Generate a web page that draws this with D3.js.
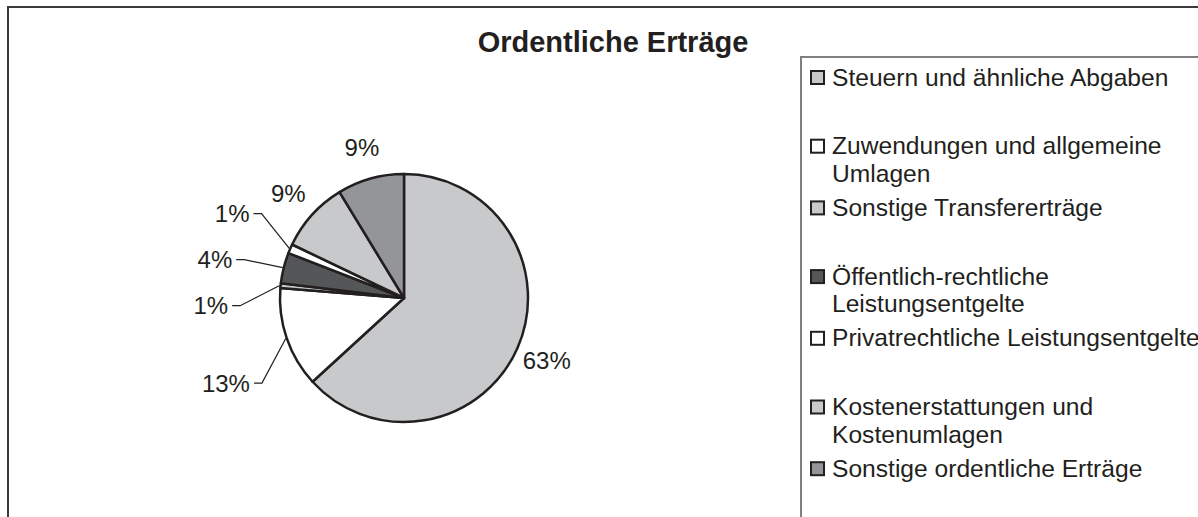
<!DOCTYPE html>
<html>
<head>
<meta charset="utf-8">
<script src="https://cdn.jsdelivr.net/npm/d3@7"></script>
<style>
  body { margin: 0; background: #fff; }
  svg { display: block; font-family: "Liberation Sans", Arial, sans-serif; }
</style>
</head>
<body>
<div id="chart"></div>
<script>
// categories in pie order (clockwise from 12 o'clock), "\n" = legend line break
const categories = [
  "Steuern und ähnliche Abgaben",
  "Zuwendungen und allgemeine\nUmlagen",
  "Sonstige Transfererträge",
  "Öffentlich-rechtliche\nLeistungsentgelte",
  "Privatrechtliche Leistungsentgelte",
  "Kostenerstattungen und\nKostenumlagen",
  "Sonstige ordentliche Erträge",
];
// share in percent
const shares = [63.2, 13.1, 0.6, 4.0, 1.2, 9.2, 8.7];
const fills = ["#c8c9cb", "#ffffff", "#c8c9cb", "#555658", "#ffffff", "#c8c9cb", "#949598"];
const title = "Ordentliche Erträge";

const W = 1198, H = 517;
const ink = "#231f20";

const svg = d3.select("#chart").append("svg")
  .attr("width", W)
  .attr("height", H);

// chart area border + legend border (both run off the page)
svg.append("rect")
  .attr("x", 8).attr("y", 7)
  .attr("width", W).attr("height", H)
  .attr("fill", "none").attr("stroke", "#3a3a3a").attr("stroke-width", 2);

svg.append("text")
  .attr("x", 613).attr("y", 52)
  .attr("text-anchor", "middle")
  .attr("font-size", 29).attr("font-weight", "bold")
  .attr("fill", ink)
  .text(title);

// Pie
const cx = 404, cy = 298, radius = 124;
const pie = d3.pie().sort(null).value((d) => d);
const arcs = pie(shares);
const arcEval = d3.arc().innerRadius(0).outerRadius(radius);

const g = svg.append("g").attr("transform", `translate(${cx},${cy})`);

g.selectAll("path")
  .data(arcs)
  .join("path")
  .attr("d", arcEval)
  .attr("fill", (d, i) => fills[i])
  .attr("stroke", ink)
  .attr("stroke-width", 2.5)
  .attr("stroke-linejoin", "round");

// Labels
const midAngle = (d) => (d.startAngle + d.endAngle) / 2;
const deg = (a) => (a * 180) / Math.PI;
const fmt = (v) => Math.round(v) + "%";

// crowded left side gets callouts with leader lines
const isCallout = (d) => deg(midAngle(d)) > 225 && deg(midAngle(d)) < 300;

const labels = arcs.map((d, i) => {
  const a = midAngle(d);
  if (!isCallout(d)) {
    const r = 156;
    return { i, a, callout: false, x: r * Math.sin(a), y: -r * Math.cos(a) };
  }
  // y is the top of the callout text
  return { i, a, callout: true, y: -235 * Math.cos(a) };
});

// push callouts apart vertically
const callouts = labels.filter((l) => l.callout).sort((p, q) => p.y - q.y);
for (let k = 1; k < callouts.length; k++) {
  if (callouts[k].y - callouts[k - 1].y < 46) callouts[k].y = callouts[k - 1].y + 46;
}
const labelRing = 176;
callouts.forEach((l) => {
  l.y += 9; // text centre
  l.x = -Math.sqrt(Math.max(0, labelRing * labelRing - l.y * l.y));
});

const labelG = g.append("g")
  .attr("font-size", 24)
  .attr("fill", ink);

labelG.selectAll("text")
  .data(labels)
  .join("text")
  .attr("x", (l) => l.x)
  .attr("y", (l) => l.y)
  .attr("dy", "0.36em")
  .attr("text-anchor", (l) => (l.callout ? "end" : "middle"))
  .text((l) => fmt(shares[l.i]));

g.append("g")
  .selectAll("polyline")
  .data(callouts)
  .join("polyline")
  .attr("fill", "none")
  .attr("stroke", ink)
  .attr("stroke-width", 1.2)
  .attr("points", (l) => {
    const ex = (radius + 1) * Math.sin(l.a), ey = -(radius + 1) * Math.cos(l.a);
    return [[l.x + 4, l.y], [l.x + 12, l.y], [ex, ey]].map((p) => p.join(",")).join(" ");
  });

// Legend
const legendX = 801, legendY = 57;
svg.append("rect")
  .attr("x", legendX).attr("y", legendY)
  .attr("width", W).attr("height", H)
  .attr("fill", "none").attr("stroke", "#808080").attr("stroke-width", 2);

const slot = 65.2, lineH = 27.5;
const items = svg.append("g").selectAll("g")
  .data(categories)
  .join("g")
  .attr("transform", (c, i) => {
    const wrapped = c.includes("\n");
    return `translate(0, ${84 + i * slot + (wrapped ? 5 : 1.5)})`;
  });

items.append("rect")
  .attr("x", 811).attr("y", -14.5)
  .attr("width", 13).attr("height", 13)
  .attr("fill", (c, i) => fills[i])
  .attr("stroke", ink)
  .attr("stroke-width", 2);

items.append("text")
  .attr("font-size", 24.6)
  .attr("fill", ink)
  .selectAll("tspan")
  .data((c) => c.split("\n"))
  .join("tspan")
  .attr("x", 832)
  .attr("y", (t, k) => k * lineH)
  .text((t) => t);
</script>
</body>
</html>
